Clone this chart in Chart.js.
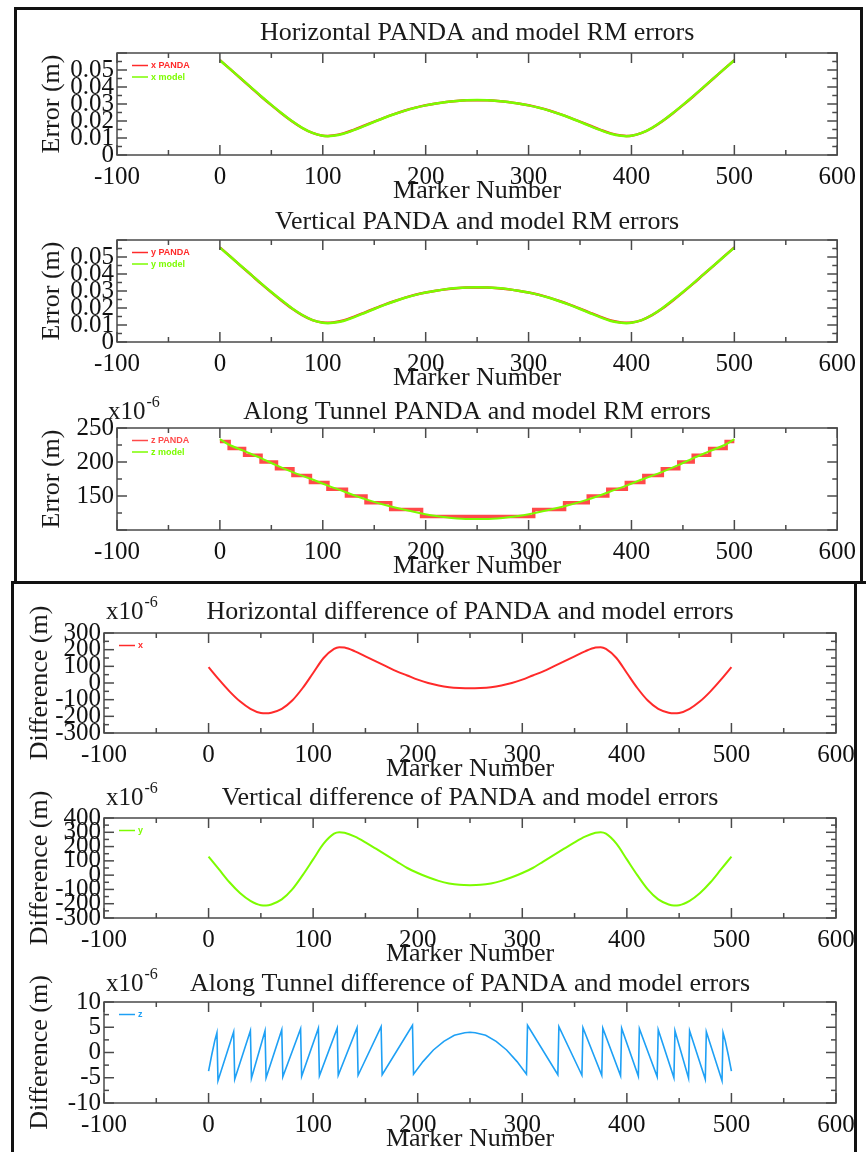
<!DOCTYPE html>
<html><head><meta charset="utf-8">
<script src="https://cdn.jsdelivr.net/npm/chart.js@4.4.1/dist/chart.umd.min.js"></script>
<style>
html,body{margin:0;padding:0;background:#fff;}
body{width:866px;height:1152px;position:relative;overflow:hidden;}
canvas{position:absolute;left:0;}
.fr{position:absolute;background:#111;pointer-events:none;z-index:5;}
</style></head><body>
<canvas id="p1"></canvas><canvas id="p2"></canvas><canvas id="p3"></canvas>
<canvas id="p4"></canvas><canvas id="p5"></canvas><canvas id="p6"></canvas>
<div class="fr" style="left:14px;top:7px;width:849px;height:3px"></div>
<div class="fr" style="left:14px;top:7px;width:3px;height:577px"></div>
<div class="fr" style="left:860px;top:7px;width:3px;height:577px"></div>
<div class="fr" style="left:11px;top:581px;width:855px;height:3px"></div>
<div class="fr" style="left:11px;top:581px;width:3px;height:571px"></div>
<div class="fr" style="left:854px;top:581px;width:3px;height:571px"></div>
<script>
// ---------- DATA ----------
const xTickValues = [-100, 0, 100, 200, 300, 400, 500, 600];
const xTickLabels = ['-100', '0', '100', '200', '300', '400', '500', '600'];
const xMinorTicks = [-50, 50, 150, 250, 350, 450, 550];

// Panels 1-2: RM errors (m)
const markersA = [0,10,20,30,40,50,60,70,80,90,100,105,110,120,130,140,150,160,170,180,190,200,210,220,230,240,250,
  260,270,280,290,300,310,320,330,340,350,360,370,380,390,395,400,410,420,430,440,450,460,470,480,490,500];
const xModel = [0.0557,0.0505,0.0452,0.0399,0.0346,0.0295,0.0246,0.0200,0.0160,0.0130,0.0113,0.0111,0.0113,0.0125,0.0146,0.0170,0.0195,0.0219,0.0241,0.0261,0.0278,0.0292,0.0303,0.0312,0.0318,0.0322,0.0323,
  0.0322,0.0318,0.0312,0.0303,0.0292,0.0278,0.0261,0.0241,0.0219,0.0195,0.0170,0.0146,0.0125,0.0113,0.0111,0.0113,0.0130,0.0160,0.0200,0.0246,0.0295,0.0346,0.0399,0.0452,0.0505,0.0557];
const xPanda = [0.05580,0.05052,0.04515,0.03979,0.03445,0.02932,0.02442,0.01985,0.01590,0.01297,0.01136,0.01121,0.01145,0.01271,0.01481,0.01719,0.01966,0.02203,0.02420,0.02617,0.02785,0.02922,0.03030,0.03119,0.03178,0.03217,0.03227,
  0.03217,0.03178,0.03119,0.03030,0.02922,0.02785,0.02617,0.02420,0.02203,0.01966,0.01719,0.01481,0.01271,0.01145,0.01121,0.01136,0.01297,0.01590,0.01985,0.02442,0.02932,0.03445,0.03979,0.04515,0.05052,0.05580];
const yModel = [0.0555,0.0503,0.0450,0.0398,0.0345,0.0294,0.0245,0.0199,0.0159,0.0129,0.0113,0.0111,0.0113,0.0124,0.0145,0.0169,0.0194,0.0218,0.0240,0.0260,0.0277,0.0291,0.0302,0.0311,0.0317,0.0321,0.0322,
  0.0321,0.0317,0.0311,0.0302,0.0291,0.0277,0.0260,0.0240,0.0218,0.0194,0.0169,0.0145,0.0124,0.0113,0.0111,0.0113,0.0129,0.0159,0.0199,0.0245,0.0294,0.0345,0.0398,0.0450,0.0503,0.0555];
const yPanda = [0.05563,0.05034,0.04495,0.03968,0.03432,0.02919,0.02430,0.01973,0.01580,0.01290,0.01141,0.01127,0.01152,0.01269,0.01480,0.01717,0.01963,0.02199,0.02414,0.02610,0.02775,0.02912,0.03019,0.03106,0.03164,0.03203,0.03213,
  0.03203,0.03164,0.03106,0.03019,0.02912,0.02775,0.02610,0.02414,0.02199,0.01963,0.01717,0.01480,0.01269,0.01152,0.01127,0.01141,0.01290,0.01580,0.01973,0.02430,0.02919,0.03432,0.03968,0.04495,0.05034,0.05563];
const errTickValues = [0, 0.01, 0.02, 0.03, 0.04, 0.05, 0.06];
const errTickLabels = ['0', '0.01', '0.02', '0.03', '0.04', '0.05', ''];
const errMinorTicks = [0.005, 0.015, 0.025, 0.035, 0.045, 0.055];

// Panel 3: along tunnel RM errors (x1e-6 m)
const zPandaX = [0,9,24,40,55,71,88,105,123,142,166,196,305,335,358,377,395,412,430,446,460,476,492,500];
const zPandaY = [230,220,210,200,190,180,170,160,150,140,130,120,130,140,150,160,170,180,190,200,210,220,230,230];
const zModelX = [0,8,24,40,54,70,88,105,123,142,165,195,205,215,225,235,245,250,255,265,275,285,295,305,335,358,377,395,412,430,446,460,476,492,500];
const zModelY = [233.7,226.1,215.9,205.7,195.7,185.5,175.3,165.2,155.2,145.1,134.9,124.6,121.8,119.5,117.8,116.6,116.1,116.0,116.1,116.6,117.8,119.5,121.8,124.6,134.9,145.1,155.2,165.2,175.3,185.5,195.7,205.7,215.9,226.1,233.7];
const zErrTickValues = [100, 150, 200, 250];
const zErrTickLabels = ['', '150', '200', '250'];
const zErrMinorTicks = [125, 175, 225];

// Panels 4-5: differences (x1e-6 m)
const markersD = [0,10,20,30,40,50,55,60,70,80,90,100,110,120,125,130,140,150,160,170,180,190,200,210,220,230,240,250,
  260,270,280,290,300,310,320,330,340,350,360,370,375,380,390,400,410,420,430,440,445,450,460,470,480,490,500];
const xDiff = [95,20,-50,-110,-155,-180,-182,-178,-155,-105,-30,60,150,205,215,213,190,160,130,100,70,45,20,0,-15,-25,-30,-32,
  -30,-25,-15,0,20,45,70,100,130,160,190,213,215,205,150,60,-30,-105,-155,-178,-182,-180,-155,-110,-50,20,95];
const yDiff = [130,40,-50,-125,-180,-210,-212,-205,-170,-100,0,110,220,290,300,297,270,230,185,140,95,50,15,-15,-40,-58,-68,-70,
  -68,-58,-40,-15,15,50,95,140,185,230,270,297,300,290,220,110,0,-100,-170,-205,-212,-210,-180,-125,-50,40,130];
const xDiffTickValues = [-300,-200,-100,0,100,200,300];
const xDiffTickLabels = ['-300','-200','-100','0','100','200','300'];
const xDiffMinorTicks = [-250,-150,-50,50,150,250];
const yDiffTickValues = [-300,-200,-100,0,100,200,300,400];
const yDiffTickLabels = ['-300','-200','-100','0','100','200','300','400'];
const yDiffMinorTicks = [-250,-150,-50,50,150,250,350];

// Panel 6: along tunnel difference (x1e-6 m)
const zDiffX = [0,3,6,8,9,24,25,40,41,54,55,70,71,88,89,105,106,123,124,142,143,165,166,195,196,205,215,225,235,245,250,255,265,275,285,295,304,
  305,334,335,357,358,376,377,394,395,411,412,429,430,445,446,459,460,475,476,491,492,494,497,500];
const zDiffY = [-3.7,-0.5,2.4,3.9,-5.6,4.1,-5.3,4.3,-5.1,4.3,-5.0,4.5,-4.8,4.7,-4.7,4.8,-4.6,4.8,-4.5,4.9,-4.5,5.1,-4.4,5.4,-4.3,-1.8,0.5,2.2,3.4,3.9,4.0,3.9,3.4,2.2,0.5,-1.8,-4.3,
  5.4,-4.4,5.1,-4.5,4.9,-4.5,4.8,-4.6,4.8,-4.7,4.7,-4.8,4.5,-5.0,4.3,-5.1,4.3,-5.3,4.1,-5.6,3.9,2.4,-0.5,-3.7];
const zDiffTickValues = [-10,-5,0,5,10];
const zDiffTickLabels = ['-10','-5','0','5','10'];
const zDiffMinorTicks = [-7.5,-2.5,2.5,7.5];

// ---------- RENDERING ----------
const SERIF = '"Liberation Serif", "Times New Roman", serif';
const RED = '#ff2a2a', GREEN = '#7cfc00', BLUE = '#1ea0f5';
const pts = (xs, ys) => xs.map((x, i) => ({x: x, y: ys[i]}));

const deco = {
  id: 'deco',
  afterDraw(chart, args, o) {
    const ctx = chart.ctx, a = chart.chartArea, xs = chart.scales.x, ys = chart.scales.y;
    ctx.save();
    ctx.strokeStyle = '#4a4a4a';
    ctx.lineWidth = 1.5;
    ctx.strokeRect(a.left, a.top, a.right - a.left, a.bottom - a.top);
    const seg = (x1, y1, x2, y2) => { ctx.beginPath(); ctx.moveTo(x1, y1); ctx.lineTo(x2, y2); ctx.stroke(); };
    xTickValues.forEach(v => { const p = xs.getPixelForValue(v); seg(p, a.bottom, p, a.bottom - 10); seg(p, a.top, p, a.top + 10); });
    xMinorTicks.forEach(v => { const p = xs.getPixelForValue(v); seg(p, a.bottom, p, a.bottom - 5); seg(p, a.top, p, a.top + 5); });
    o.yMajor.forEach(v => { const p = ys.getPixelForValue(v); seg(a.left, p, a.left + 10, p); seg(a.right, p, a.right - 10, p); });
    o.yMinor.forEach(v => { const p = ys.getPixelForValue(v); seg(a.left, p, a.left + 5, p); seg(a.right, p, a.right - 5, p); });
    // titles
    ctx.fillStyle = '#1a1a1a';
    ctx.textAlign = 'center'; ctx.textBaseline = 'middle';
    ctx.font = '26px ' + SERIF;
    const cx = (a.left + a.right) / 2;
    ctx.fillText(o.title, cx, a.top - o.titleDy);
    ctx.fillText('Marker Number', cx, a.bottom + 36);
    ctx.save();
    ctx.translate(o.yTitleX, (a.top + a.bottom) / 2);
    ctx.rotate(-Math.PI / 2);
    ctx.fillText(o.yTitle, 0, 0);
    ctx.restore();
    if (o.exp) {
      ctx.textAlign = 'left';
      ctx.font = '25px ' + SERIF;
      const ex = a.left + o.expDx, ey = a.top - o.titleDy;
      ctx.fillText('x10', ex, ey);
      const w = ctx.measureText('x10').width;
      ctx.font = '16px ' + SERIF;
      ctx.fillText('-6', ex + w + 1, ey - 9);
    }
    // legend
    ctx.textAlign = 'left';
    ctx.font = 'bold 9px "Liberation Sans", Arial, sans-serif';
    o.legend.forEach((k, i) => {
      const ds = chart.data.datasets[k];
      const y = a.top + 12.5 + i * 11.5;
      ctx.strokeStyle = ds.borderColor; ctx.lineWidth = 1.5;
      seg(a.left + 15, y, a.left + 31, y);
      ctx.fillStyle = ds.borderColor;
      ctx.fillText(ds.label, a.left + 34, y + 0.5);
    });
    ctx.restore();
  }
};

function makeChart(id, L, datasets, yr, o) {
  const cv = document.getElementById(id);
  const cTop = L.top - 45;
  const H = L.bottom - L.top + 94;
  cv.width = 866; cv.height = H;
  cv.style.top = cTop + 'px';
  cv.style.width = '866px'; cv.style.height = H + 'px';
  new Chart(cv, {
    type: 'line',
    data: {datasets: datasets},
    plugins: [deco],
    options: {
      responsive: false, animation: false, devicePixelRatio: 1,
      layout: {padding: {left: 0, right: 866 - L.right, top: 45, bottom: 0}},
      plugins: {legend: {display: false}, tooltip: {enabled: false}, title: {display: false}, deco: o},
      elements: {point: {radius: 0}},
      scales: {
        x: {
          type: 'linear', min: -100, max: 600,
          grid: {display: false, drawTicks: false}, border: {display: false},
          afterBuildTicks: s => { s.ticks = xTickValues.map(v => ({value: v})); },
          afterFit: s => { s.height = 49; },
          ticks: {autoSkip: false, maxRotation: 0, minRotation: 0, padding: 10, color: '#111',
                  font: {family: SERIF, size: 25, lineHeight: 1}, callback: (v, i) => xTickLabels[i]}
        },
        y: {
          type: 'linear', min: yr.min, max: yr.max,
          grid: {display: false, drawTicks: false}, border: {display: false},
          afterBuildTicks: s => { s.ticks = yr.values.map(v => ({value: v})); },
          afterFit: s => { s.width = L.left; },
          ticks: {autoSkip: false, padding: 3, color: '#111',
                  font: {family: SERIF, size: 25, lineHeight: 1}, callback: (v, i) => yr.labels[i]}
        }
      }
    }
  });
}

const lineDs = (label, data, color, w, order, extra) => Object.assign({
  label: label, data: data, borderColor: color, backgroundColor: color, borderWidth: w,
  fill: false, pointRadius: 0, order: order, cubicInterpolationMode: 'monotone'
}, extra || {});

makeChart('p1', {top: 53, bottom: 155, left: 117, right: 838},
  [lineDs('x PANDA', pts(markersA, xPanda), RED, 2.5, 1), lineDs('x model', pts(markersA, xModel), GREEN, 2.5, 0)],
  {min: 0, max: 0.06, values: errTickValues, labels: errTickLabels},
  {title: 'Horizontal PANDA and model RM errors', titleDy: 20, yTitle: 'Error (m)', yTitleX: 52,
   yMajor: errTickValues, yMinor: errMinorTicks, legend: [0, 1], exp: false});

makeChart('p2', {top: 240, bottom: 342, left: 117, right: 838},
  [lineDs('y PANDA', pts(markersA, yPanda), RED, 2.5, 1), lineDs('y model', pts(markersA, yModel), GREEN, 2.5, 0)],
  {min: 0, max: 0.06, values: errTickValues, labels: errTickLabels},
  {title: 'Vertical PANDA and model RM errors', titleDy: 18, yTitle: 'Error (m)', yTitleX: 52,
   yMajor: errTickValues, yMinor: errMinorTicks, legend: [0, 1], exp: false});

makeChart('p3', {top: 428, bottom: 530, left: 117, right: 838},
  [lineDs('z PANDA', pts(zPandaX, zPandaY), '#ff4a4a', 3.5, 1, {stepped: true, cubicInterpolationMode: 'default', tension: 0}),
   lineDs('z model', pts(zModelX, zModelY), GREEN, 2, 0)],
  {min: 100, max: 250, values: zErrTickValues, labels: zErrTickLabels},
  {title: 'Along Tunnel PANDA and model RM errors', titleDy: 16, yTitle: 'Error (m)', yTitleX: 52,
   yMajor: zErrTickValues, yMinor: zErrMinorTicks, legend: [0, 1], exp: true, expDx: -9});

makeChart('p4', {top: 633, bottom: 733, left: 104, right: 836},
  [lineDs('x', pts(markersD, xDiff), RED, 2, 0)],
  {min: -300, max: 300, values: xDiffTickValues, labels: xDiffTickLabels},
  {title: 'Horizontal difference of PANDA and model errors', titleDy: 21, yTitle: 'Difference (m)', yTitleX: 40,
   yMajor: xDiffTickValues, yMinor: xDiffMinorTicks, legend: [0], exp: true, expDx: 2});

makeChart('p5', {top: 818, bottom: 918, left: 104, right: 836},
  [lineDs('y', pts(markersD, yDiff), GREEN, 2, 0)],
  {min: -300, max: 400, values: yDiffTickValues, labels: yDiffTickLabels},
  {title: 'Vertical difference of PANDA and model errors', titleDy: 20, yTitle: 'Difference (m)', yTitleX: 40,
   yMajor: yDiffTickValues, yMinor: yDiffMinorTicks, legend: [0], exp: true, expDx: 2});

makeChart('p6', {top: 1002, bottom: 1103, left: 104, right: 836},
  [lineDs('z', pts(zDiffX, zDiffY), BLUE, 1.6, 0, {cubicInterpolationMode: 'default', tension: 0})],
  {min: -10, max: 10, values: zDiffTickValues, labels: zDiffTickLabels},
  {title: 'Along Tunnel difference of PANDA and model errors', titleDy: 18, yTitle: 'Difference (m)', yTitleX: 40,
   yMajor: zDiffTickValues, yMinor: zDiffMinorTicks, legend: [0], exp: true, expDx: 2});
</script>
</body></html>
